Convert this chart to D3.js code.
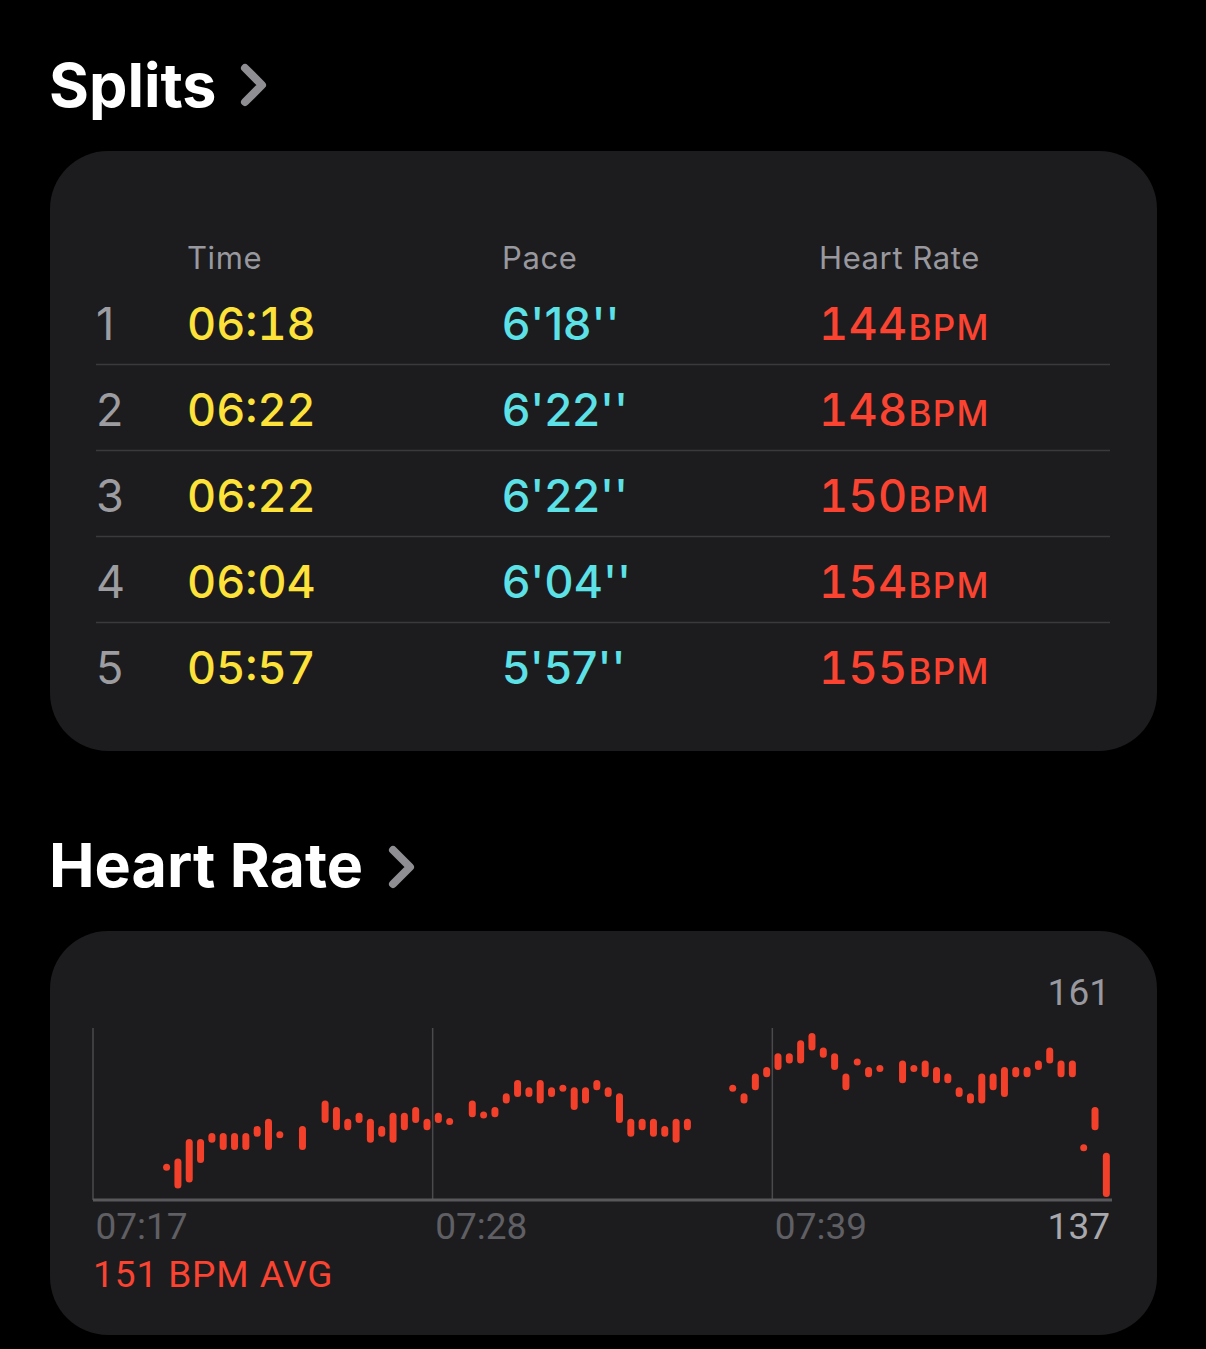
<!DOCTYPE html>
<html>
<head>
<meta charset="utf-8">
<script src="https://cdn.jsdelivr.net/npm/d3@7"></script>
<style>
html,body{margin:0;padding:0;background:#000;}
svg{display:block;}
.tnum{font-feature-settings:"tnum" 1;font-variant-numeric:tabular-nums;}
</style>
</head>
<body>
<svg id="c" width="1206" height="1349"></svg>
<script>
// ---------- data ----------
const splitIndex = [1, 2, 3, 4, 5];
const splitTimes = ["06:18", "06:22", "06:22", "06:04", "05:57"];
const splitPaces = ["6'18''", "6'22''", "6'22''", "6'04''", "5'57''"];
const splitHeartRates = [144, 148, 150, 154, 155];
const splitHeaders = ["Time", "Pace", "Heart Rate"];

const timeTicks = ["07:17", "07:28", "07:39"];
const hrMaxLabel = 161;
const hrMinLabel = 137;
const hrAverage = 151;
const binSeconds = 22;          // each bar covers 22 s
const firstBin = 6;             // first bar's bin index after 07:17
// per-bin heart-rate range (high / low), null = no reading
const hrHigh = [141,141.8,144.8,144.8,145.7,145.7,145.7,145.7,146.8,147.9,146,null,146.8,null,150.7,149.7,147.9,148.8,147.9,146.8,
  148.8,148.8,149.7,147.9,148.8,148,null,150.7,149,149.7,151.8,153.8,152.7,153.8,152.7,153.1,152.7,152.7,153.8,152.7,
  151.8,147.9,147.9,147.9,146.8,147.9,147.9,null,null,null,153.1,151.8,154.8,155.8,157.9,157.9,159.9,161,158.8,157.9,
  154.8,157.1,155.8,156.1,null,156.8,156.1,156.8,155.8,154.8,152.7,151.8,154.8,154.8,155.8,155.8,155.8,156.8,158.8,156.8,
  156.8,144,149.7,142.7];
const hrLow  = [141,138.3,139.2,142.2,145.3,144.2,144.2,144.2,146.2,144.2,146,null,144.2,null,148.3,147.2,147.2,148.3,145.3,146.2,
  145.3,147.2,148.3,147.2,148.3,148,null,149.2,149,149.2,151.3,152.3,152.3,151.3,152.3,153.1,150.3,151.3,153.3,152.3,
  148.3,146.2,147.2,146.2,146.2,145.3,147.2,null,null,null,153.1,151.3,153.3,155.3,156.4,157.4,157.4,159.4,158.3,156.4,
  153.3,157.1,155.3,156.1,null,154.4,156.1,155.3,154.4,154.4,152.3,151.3,151.3,153.3,152.3,155.3,155.3,156.4,157.4,155.3,
  155.3,144,147.2,137];

// ---------- drawing ----------
const svg = d3.select("#c");
const W = 1206;
svg.append("rect").attr("width", W).attr("height", 1349).attr("fill", "#000");

const FONT = "Inter, 'Noto Sans', sans-serif";
const GRAY = "#98989e";
const RED = "#fb4331";

function chevron(x, y) {
  svg.append("path")
    .attr("d", d3.line()([[x, y - 17], [x + 17, y], [x, y + 17]]))
    .attr("fill", "none").attr("stroke", "#8e8e93")
    .attr("stroke-width", 8).attr("stroke-linecap", "round").attr("stroke-linejoin", "round");
}

// Section titles
svg.append("text").attr("x", 49).attr("y", 107).text("Splits")
  .attr("font-family", FONT).attr("font-weight", 700).attr("font-size", 61).attr("fill", "#fff");
chevron(245, 85);
svg.append("text").attr("x", 49).attr("y", 887).text("Heart Rate")
  .attr("font-family", FONT).attr("font-weight", 700).attr("font-size", 61).attr("fill", "#fff");
chevron(393, 867);

// Cards
svg.append("rect").attr("x", 50).attr("y", 151).attr("width", 1107).attr("height", 600)
  .attr("rx", 58).attr("fill", "#1c1c1e");
svg.append("rect").attr("x", 50).attr("y", 931).attr("width", 1107).attr("height", 404)
  .attr("rx", 58).attr("fill", "#1c1c1e");

// ---------- Splits table ----------
const colX = [187, 502, 819];
const rowY = d3.scaleLinear().domain([0, 1]).range([340, 426]);
const table = svg.append("g");

table.selectAll("text.hdr").data(splitHeaders).join("text")
  .attr("class", "hdr")
  .attr("x", (d, i) => colX[i]).attr("y", 269)
  .attr("font-family", FONT).attr("font-size", 31).attr("letter-spacing", 0.6).attr("fill", GRAY)
  .text(d => d);

table.selectAll("line.sep").data(splitIndex.slice(0, -1)).join("line")
  .attr("class", "sep")
  .attr("x1", 96).attr("x2", 1110)
  .attr("y1", (d, i) => rowY(i) + 24.5).attr("y2", (d, i) => rowY(i) + 24.5)
  .attr("stroke", "#3a3a3c").attr("stroke-width", 1.5);

const rows = table.selectAll("g.row").data(splitIndex).join("g").attr("class", "row")
  .attr("transform", (d, i) => `translate(0,${rowY(i)})`);

rows.append("text").attr("x", 96).attr("y", 0)
  .attr("font-family", FONT).attr("font-size", 45).attr("fill", "#9c9ca1")
  .text(d => d);
rows.append("text").attr("class", "tnum").attr("x", colX[0]).attr("y", 0)
  .attr("font-family", FONT).attr("font-weight", 500).attr("font-size", 45)
  .attr("fill", "#fde23a")
  .text((d, i) => splitTimes[i]);
rows.append("text").attr("x", colX[1]).attr("y", 0)
  .attr("font-family", FONT).attr("font-weight", 500).attr("font-size", 45)
  .attr("fill", "#5ce1e6")
  .text((d, i) => splitPaces[i]);
const hrt = rows.append("text").attr("class", "tnum").attr("x", colX[2]).attr("y", 0)
  .attr("font-family", FONT).attr("font-weight", 500).attr("fill", RED);
hrt.append("tspan").attr("font-size", 45).attr("letter-spacing", 0.3).text((d, i) => splitHeartRates[i]);
hrt.append("tspan").attr("font-size", 35).attr("letter-spacing", 1.4).attr("dx", 1).text("BPM");

// ---------- Heart rate chart ----------
const parse = d3.timeParse("%H:%M");
const t0 = parse(timeTicks[0]);
const nBins = 90;
const t1 = new Date(t0.getTime() + nBins * binSeconds * 1000);
const x = d3.scaleTime().domain([t0, t1]).range([93, 1112]);
const y = d3.scaleLinear().domain([hrMinLabel, hrMaxLabel]).range([1193.5, 1036.5]);
const plotTop = 1028, plotBottom = 1200;

const chart = svg.append("g");

// vertical gridlines at ticks
chart.selectAll("line.grid").data(timeTicks.map(parse)).join("line")
  .attr("class", "grid")
  .attr("x1", d => x(d)).attr("x2", d => x(d))
  .attr("y1", plotTop).attr("y2", plotBottom)
  .attr("stroke", "#4a4a4e").attr("stroke-width", 1.5);

// x axis via d3.axisBottom (styled)
const xAxis = d3.axisBottom(x).tickValues(timeTicks.map(parse))
  .tickFormat(d3.timeFormat("%H:%M")).tickSize(0).tickPadding(0);
const axG = chart.append("g").attr("transform", `translate(0,${plotBottom})`).call(xAxis);
axG.select(".domain").attr("stroke", "#58585c").attr("stroke-width", 3)
  .attr("d", `M${x.range()[0]},0H${x.range()[1]}`);
axG.selectAll(".tick text")
  .attr("text-anchor", "start").attr("dx", 2).attr("y", 39).attr("dy", 0)
  .attr("font-family", "Roboto, sans-serif").attr("font-size", 37).attr("fill", "#5f5f64");

// min / max labels
chart.append("text").attr("x", 1110).attr("y", 1005).attr("text-anchor", "end")
  .attr("font-family", "Roboto, sans-serif").attr("font-size", 37).attr("fill", "#98989e")
  .text(hrMaxLabel);
chart.append("text").attr("x", 1110).attr("y", 1239).attr("text-anchor", "end")
  .attr("font-family", "Roboto, sans-serif").attr("font-size", 37).attr("fill", "#a8a8ad")
  .text(hrMinLabel);
chart.append("text").attr("x", 93).attr("y", 1287)
  .attr("font-family", "Roboto, sans-serif").attr("font-size", 37).attr("letter-spacing", 0.9).attr("fill", RED)
  .text(`${hrAverage} BPM AVG`);

// bars
const bars = hrHigh.map((h, i) => ({ i, h, l: hrLow[i] })).filter(d => d.h != null);
const binCenter = i => new Date(t0.getTime() + (firstBin + i + 0.5) * binSeconds * 1000);
const bw = 7;
chart.selectAll("rect.bar").data(bars).join("rect")
  .attr("class", "bar")
  .attr("x", d => x(binCenter(d.i)) - bw / 2)
  .attr("width", bw)
  .attr("y", d => y(d.h) - bw / 2)
  .attr("height", d => y(d.l) - y(d.h) + bw)
  .attr("rx", bw / 2)
  .attr("fill", "#f2402b");
</script>
</body>
</html>
